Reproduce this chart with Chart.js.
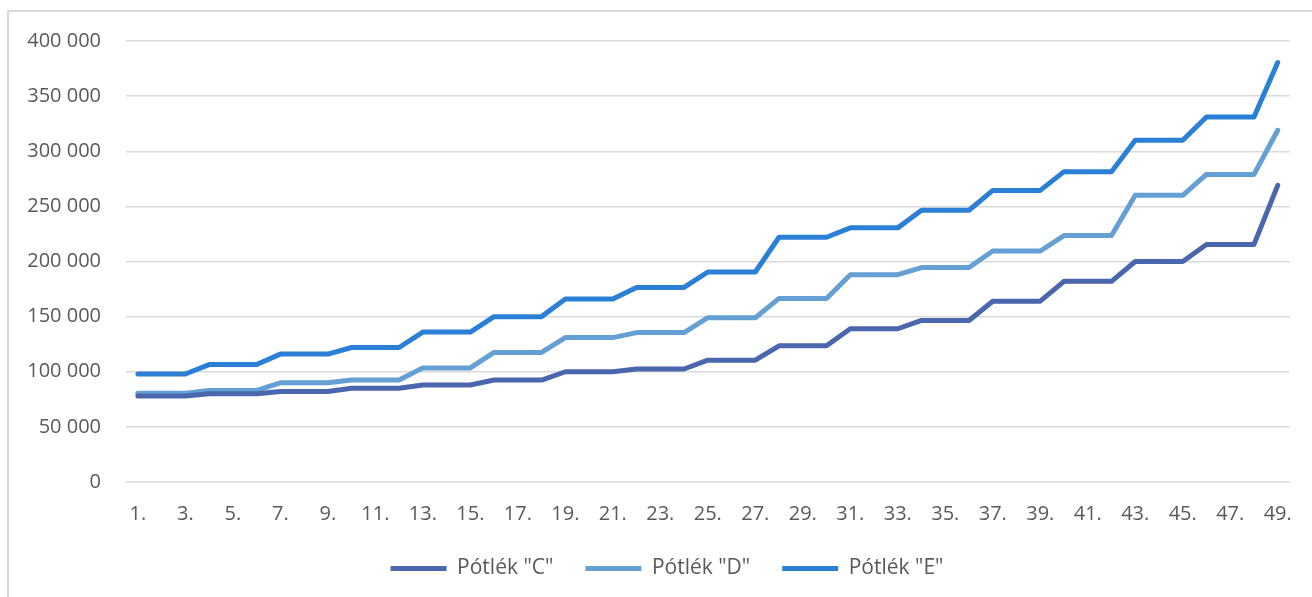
<!DOCTYPE html>
<html>
<head>
<meta charset="utf-8">
<script src="https://cdn.jsdelivr.net/npm/chart.js@4.4.1/dist/chart.umd.min.js"></script>
<style>
    html, body { margin: 0; padding: 0; background: #fff; }
    #wrap { position: relative; width: 1312px; height: 597px; overflow: hidden; }
    #frame {
        position: absolute; left: 7px; top: 10px; width: 1400px; height: 700px;
        border: 2px solid #d9d9d9; box-sizing: border-box;
    }
    #chart-box { position: absolute; left: 0; top: 0; width: 1312px; height: 597px; }
</style>
</head>
<body>
<div id="wrap">
    <div id="frame"></div>
    <div id="chart-box"><canvas id="chart"></canvas></div>
</div>
<script>
const categories = ['1.', '2.', '3.', '4.', '5.', '6.', '7.', '8.', '9.', '10.',
    '11.', '12.', '13.', '14.', '15.', '16.', '17.', '18.', '19.', '20.',
    '21.', '22.', '23.', '24.', '25.', '26.', '27.', '28.', '29.', '30.',
    '31.', '32.', '33.', '34.', '35.', '36.', '37.', '38.', '39.', '40.',
    '41.', '42.', '43.', '44.', '45.', '46.', '47.', '48.', '49.'];

const potlekC = [78000, 78000, 78000, 80000, 80000, 80000, 82000, 82000, 82000, 85000,
    85000, 85000, 88000, 88000, 88000, 92500, 92500, 92500, 100000, 100000,
    100000, 102500, 102500, 102500, 110500, 110500, 110500, 123500, 123500, 123500,
    139000, 139000, 139000, 146500, 146500, 146500, 164000, 164000, 164000, 182000,
    182000, 182000, 200000, 200000, 200000, 215500, 215500, 215500, 269000];

const potlekD = [80500, 80500, 80500, 83000, 83000, 83000, 90000, 90000, 90000, 92500,
    92500, 92500, 103500, 103500, 103500, 117500, 117500, 117500, 131000, 131000,
    131000, 135500, 135500, 135500, 149000, 149000, 149000, 166500, 166500, 166500,
    188000, 188000, 188000, 194500, 194500, 194500, 209500, 209500, 209500, 223500,
    223500, 223500, 260000, 260000, 260000, 279000, 279000, 279000, 319000];

const potlekE = [98000, 98000, 98000, 106500, 106500, 106500, 116000, 116000, 116000, 122000,
    122000, 122000, 136000, 136000, 136000, 150000, 150000, 150000, 166000, 166000,
    166000, 176500, 176500, 176500, 190500, 190500, 190500, 222000, 222000, 222000,
    230500, 230500, 230500, 246500, 246500, 246500, 264500, 264500, 264500, 281500,
    281500, 281500, 310000, 310000, 310000, 331000, 331000, 331000, 380500];

const seriesNames = ['Pótlék "C"', 'Pótlék "D"', 'Pótlék "E"'];
const seriesColors = ['#4a66ac', '#64a0d3', '#2b80d6'];

const yMax = 400000;
const yStep = 50000;

function formatThousands(v) {
    return String(v).replace(/\B(?=(\d{3})+(?!\d))/g, ' ');
}

function makeDataset(label, data, color) {
    return {
        label: label,
        data: data,
        borderColor: color,
        backgroundColor: color,
        borderWidth: 5,
        borderCapStyle: 'round',
        borderJoinStyle: 'round',
        pointRadius: 0,
        pointHoverRadius: 0,
        pointStyle: 'line',
        tension: 0,
        fill: false
    };
}

// the original legend sits a bit right of the canvas centre
const legendShift = {
    id: 'legendShift',
    afterLayout(chart) {
        chart.legend.left += 21;
        chart.legend.right += 21;
    }
};

const textColor = '#595959';
const font = "'Open Sans', 'DejaVu Sans', sans-serif";

const ctx = document.getElementById('chart').getContext('2d');
new Chart(ctx, {
    type: 'line',
    data: {
        labels: categories,
        datasets: [
            makeDataset(seriesNames[0], potlekC, seriesColors[0]),
            makeDataset(seriesNames[1], potlekD, seriesColors[1]),
            makeDataset(seriesNames[2], potlekE, seriesColors[2])
        ]
    },
    options: {
        responsive: true,
        maintainAspectRatio: false,
        animation: false,
        layout: {
            padding: { top: 41, right: 20, bottom: 8, left: 0 }
        },
        plugins: {
            tooltip: { enabled: false },
            legend: {
                position: 'bottom',
                labels: {
                    usePointStyle: true,
                    pointStyleWidth: 56,
                    padding: 32,
                    color: textColor,
                    font: { family: font, size: 21 }
                }
            }
        },
        scales: {
            x: {
                offset: true,
                grid: { display: false, drawTicks: false },
                border: { display: false },
                ticks: {
                    autoSkip: false,
                    maxRotation: 0,
                    minRotation: 0,
                    padding: 20,
                    color: textColor,
                    font: { family: font, size: 20 },
                    callback: function (value, index) {
                        return index % 2 === 0 ? categories[index] : '';
                    }
                },
                afterFit: function (scale) { scale.height = 44; }
            },
            y: {
                min: 0,
                max: yMax,
                grid: { color: '#d9d9d9', lineWidth: 1.5, drawTicks: false },
                border: { display: false },
                ticks: {
                    stepSize: yStep,
                    padding: 25,
                    color: textColor,
                    font: { family: font, size: 20 },
                    callback: function (value) { return formatThousands(value); }
                },
                afterFit: function (scale) { scale.width = 126; }
            }
        }
    },
    plugins: [legendShift]
});
</script>
</body>
</html>
